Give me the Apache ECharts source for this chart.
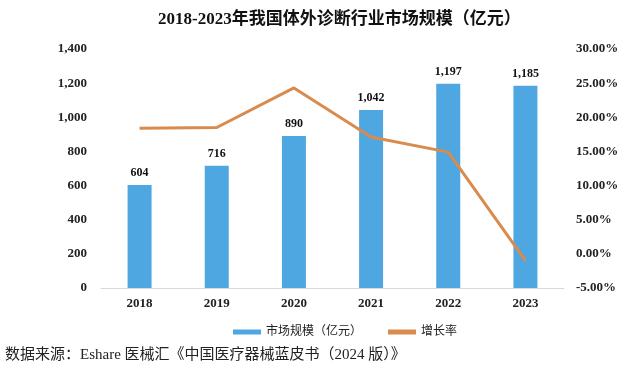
<!DOCTYPE html>
<html><head><meta charset="utf-8">
<script src="https://cdn.jsdelivr.net/npm/echarts@6/dist/echarts.min.js"></script>
<style>html,body{margin:0;padding:0;background:#fff}#c{width:640px;height:387px}</style>
</head><body><div id="c"></div>
<script>
const years = ['2018','2019','2020','2021','2022','2023'];
const marketSize = [604, 716, 890, 1042, 1197, 1185];
const growthRate = [18.4, 18.5, 24.3, 17.1, 14.9, -1.0];
const leftTicks = [0, 200, 400, 600, 800, 1000, 1200, 1400];
const rightTicks = [-5, 0, 5, 10, 15, 20, 25, 30];

const serif = '"Liberation Serif", "Noto Sans CJK SC", serif';
const chart = echarts.init(document.getElementById('c'));
chart.setOption({
  animation: false,
  backgroundColor: '#fff',
  title: {
    text: '2018-2023年我国体外诊断行业市场规模（亿元）',
    left: 153, top: 6,
    textStyle: {fontFamily: serif, fontSize: 17, fontWeight: 'bold', color: '#111'}
  },
  graphic: [{
    type: 'text', left: 5, top: 348,
    style: {text: '数据来源：Eshare 医械汇《中国医疗器械蓝皮书（2024 版）》', font: '15px ' + serif, fill: '#222'}
  }],
  legend: {
    top: 321, left: 228, itemGap: 26, itemWidth: 28, itemHeight: 5,
    textStyle: {fontFamily: serif, fontSize: 12, color: '#222'},
    data: [{name: '市场规模（亿元）', icon: 'rect'}, {name: '增长率', icon: 'rect'}]
  },
  grid: {left: 101, right: 76, top: 49, bottom: 99},
  xAxis: {
    type: 'category', data: years,
    axisLine: {lineStyle: {color: '#d9d9d9'}},
    axisTick: {show: false},
    axisLabel: {fontFamily: serif, fontSize: 13, fontWeight: 'bold', color: '#222', margin: 9}
  },
  yAxis: [{
    type: 'value', min: leftTicks[0], max: leftTicks[leftTicks.length-1], interval: 200,
    splitLine: {show: false}, axisLine: {show: false}, axisTick: {show: false},
    axisLabel: {fontFamily: serif, fontSize: 13, fontWeight: 'bold', color: '#222', margin: 14,
      formatter: v => v.toLocaleString('en-US')}
  }, {
    type: 'value', min: rightTicks[0], max: rightTicks[rightTicks.length-1], interval: 5,
    splitLine: {show: false}, axisLine: {show: false}, axisTick: {show: false},
    axisLabel: {fontFamily: serif, fontSize: 13, fontWeight: 'bold', color: '#222', margin: 12,
      formatter: v => v.toFixed(2) + '%'}
  }],
  series: [{
    name: '市场规模（亿元）', type: 'bar', data: marketSize, barWidth: 24,
    itemStyle: {color: '#4fa7e1'},
    label: {show: true, position: 'top', distance: 6, fontFamily: serif, fontSize: 12, fontWeight: 'bold', color: '#111',
      formatter: p => p.value.toLocaleString('en-US')}
  }, {
    name: '增长率', type: 'line', yAxisIndex: 1, data: growthRate,
    symbol: 'none', lineStyle: {color: '#d98b4e', width: 3}, itemStyle: {color: '#d98b4e'}
  }]
});
</script></body></html>
